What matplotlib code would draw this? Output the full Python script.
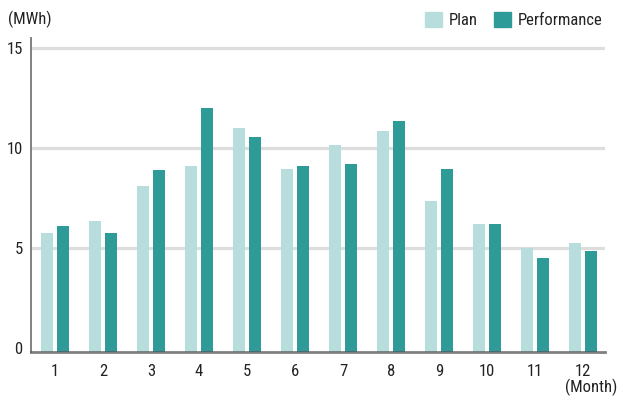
import matplotlib
matplotlib.use("Agg")
import matplotlib.pyplot as plt
from matplotlib import font_manager
import numpy as np
from matplotlib.patches import Patch

# condensed looking font if there is one, otherwise Roboto
names = {f.name for f in font_manager.fontManager.ttflist}
narrow = [n for n in ['Roboto Condensed', 'Liberation Sans Narrow', 'Arial Narrow',
                      'DejaVu Sans Condensed'] if n in names]
plt.rcParams['font.family'] = narrow[:1] + ['Roboto', 'DejaVu Sans']

# ---- data ----
months = ['1', '2', '3', '4', '5', '6', '7', '8', '9', '10', '11', '12']
plan = [5.77, 6.33, 8.08, 9.09, 10.99, 8.94, 10.14, 10.84, 7.33, 6.22, 5.02, 5.27]
performance = [6.12, 5.77, 8.89, 12.0, 10.54, 9.09, 9.19, 11.35, 8.94, 6.22, 4.52, 4.87]
yticks = [0, 5, 10, 15]

c_plan = '#b7dedd'
c_perf = '#2e9b99'
txt = '#222222'

fig = plt.figure(figsize=(6.19, 3.96), dpi=100)
ax = fig.add_axes([31/619, 44/396, 574/619, 314/396])

x = np.arange(1, len(months) + 1)
w = 0.25
off = 0.167
base = -0.2  # bars run down to the axis line, which sits a bit under 0
ax.bar(x - off, np.array(plan) - base, bottom=base, width=w, color=c_plan, zorder=2)
ax.bar(x + off, np.array(performance) - base, bottom=base, width=w, color=c_perf, zorder=2)

ax.set_xlim(0.5, 12.46)
ax.set_ylim(base, 15.5)
ax.set_xticks(x)
ax.set_xticklabels(months)
ax.set_yticks(yticks)
ax.tick_params(axis='both', length=0, labelsize=12, colors=txt)
ax.tick_params(axis='x', pad=9)
ax.tick_params(axis='y', pad=6)

for v in yticks[1:]:
    ax.axhline(v, color='#dddddd', lw=2.3, zorder=1)

for s in ['top', 'right']:
    ax.spines[s].set_visible(False)
ax.spines['left'].set_color('#777777')
ax.spines['left'].set_linewidth(1.3)
ax.spines['bottom'].set_color('#555555')
ax.spines['bottom'].set_linewidth(2)
ax.spines['bottom'].set_alpha(0.75)
ax.spines['bottom'].set_zorder(3)

fig.text(8/619, 1 - 19/396, '(MWh)', fontsize=12, color=txt, va='center', ha='left')
fig.text(617/619, 1 - 387/396, '(Month)', fontsize=12, color=txt, va='center', ha='right')

handles = [Patch(color=c_plan, label='Plan'), Patch(color=c_perf, label='Performance')]
fig.legend(handles=handles, loc='center right', bbox_to_anchor=(609/619, 1 - 20/396),
           ncol=2, frameon=False, fontsize=12, handlelength=1.0, handleheight=1.0,
           handletextpad=0.4, columnspacing=1.0, labelcolor=txt, borderaxespad=0)

fig.savefig('out.png', dpi=100)
